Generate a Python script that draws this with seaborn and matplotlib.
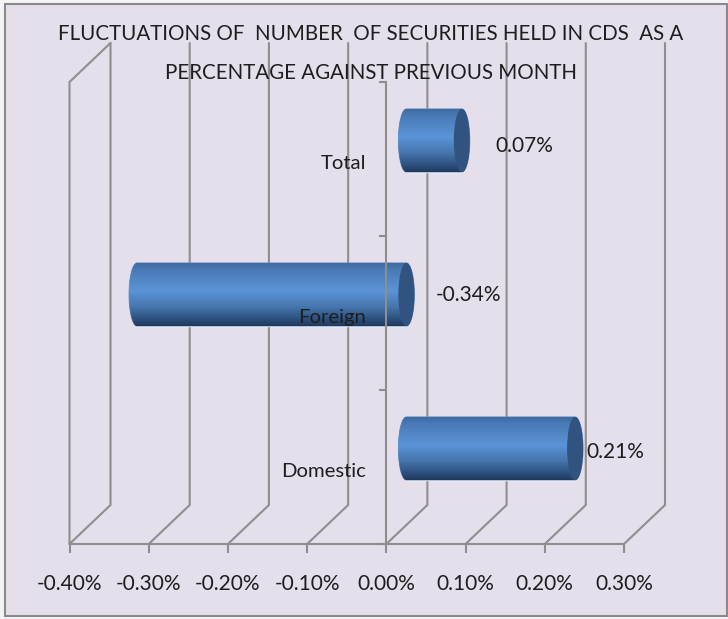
import numpy as np
import pandas as pd
import matplotlib
matplotlib.use("Agg")
import matplotlib.pyplot as plt
import seaborn as sns
from matplotlib.colors import LinearSegmentedColormap
from matplotlib.patches import Ellipse, Rectangle

# Datos del grafico
categorias = ["Total", "Foreign", "Domestic"]
valores = [0.07, -0.34, 0.213]
ticks_x = [-0.40, -0.30, -0.20, -0.10, 0.00, 0.10, 0.20, 0.30]
titulo = "FLUCTUATIONS OF  NUMBER  OF SECURITIES HELD IN CDS  AS A\nPERCENTAGE AGAINST PREVIOUS MONTH"

sns.set_theme(style="white")
plt.rcParams["font.family"] = ["Lato", "DejaVu Sans"]

FONDO = "#e4dfeb"
GRIS = "#8e8e8e"
TEXTO = "#1e1e1e"

fig = plt.figure(figsize=(7.28, 6.19), dpi=100, facecolor="#f4f3f5")
fig.patches.append(Rectangle((5 / 728, 1 - 616 / 619), 722 / 728, 612 / 619, transform=fig.transFigure,
                             facecolor=FONDO, edgecolor="#8a8a8a", linewidth=1.5, zorder=-1))
ax = fig.add_axes([69.5 / 728, 75 / 619, 554.5 / 728, 462 / 619])
ax.patch.set_visible(False)

df = pd.DataFrame({"categoria": categorias, "valor": valores})
sns.barplot(data=df, x="valor", y="categoria", orient="h", width=0.41, color="#4f81bd", ax=ax, zorder=3)

# Profundidad del efecto 3D, en unidades de los ejes
fondo_x = 41 / 792
fondo_y = 39 / 154
medio_x = 20 / 792
medio_y = 18.5 / 154
radio_x = 8 / 792

cmap = LinearSegmentedColormap.from_list("cilindro", [
    (0.0, "#3f6a9f"), (0.12, "#4a7ab6"), (0.45, "#5b94d8"), (0.7, "#4676ad"), (0.9, "#2c4e7c"), (1.0, "#203a5e")])
degradado = np.linspace(0, 1, 128).reshape(-1, 1)

for barra in list(ax.patches):
    barra.set_x(barra.get_x() + medio_x)
    barra.set_y(barra.get_y() - medio_y)
    extremos = [barra.get_x(), barra.get_x() + barra.get_width()]
    izq, der = min(extremos), max(extremos)
    arriba, abajo = barra.get_y(), barra.get_y() + barra.get_height()
    cy = (arriba + abajo) / 2
    ang = np.linspace(np.pi / 2, 3 * np.pi / 2, 40)
    xs = np.r_[izq + radio_x * np.cos(ang), der - radio_x * np.cos(ang)]
    ys = np.r_[cy - (abajo - cy) * np.sin(ang), cy + (abajo - cy) * np.sin(ang)]
    contorno = plt.Polygon(np.c_[xs, ys], closed=True, transform=ax.transData, facecolor="none",
                           edgecolor="#5a86b8", linewidth=0.6, zorder=4)
    ax.add_patch(contorno)
    im = ax.imshow(degradado, cmap=cmap, aspect="auto", origin="upper", zorder=4,
                   extent=(izq - radio_x, der + radio_x, abajo, arriba))
    im.set_clip_path(contorno)
    ax.add_patch(Ellipse((der, cy), 2 * radio_x, abajo - arriba, facecolor="#30537f", edgecolor="none", zorder=5))

ax.set_xlim(ticks_x[0], ticks_x[-1])
ax.set_ylim(2.5, -0.5)

# Paredes y piso del 3D
for t in ticks_x:
    ax.plot([t, t + fondo_x, t + fondo_x], [2.5, 2.5 - fondo_y, -0.5 - fondo_y], color=GRIS, lw=1.5,
            clip_on=False, zorder=1, solid_joinstyle="miter")
ax.plot([ticks_x[0], ticks_x[0], ticks_x[0] + fondo_x], [2.5, -0.5, -0.5 - fondo_y], color=GRIS, lw=1.5,
        clip_on=False, zorder=1)

sns.despine(ax=ax, top=True, right=True)
ax.spines["left"].set_position(("data", 0))
ax.spines["left"].set_color(GRIS)
ax.spines["left"].set_linewidth(1.5)
ax.spines["left"].set_zorder(6)
ax.spines["bottom"].set_color(GRIS)
ax.spines["bottom"].set_linewidth(1.5)

ax.set_xticks(ticks_x, [f"{t:.2f}%" for t in ticks_x])
ax.set_yticks([-0.5, 0.5, 1.5, 2.5], [])
ax.tick_params(axis="x", length=6.5, width=1.5, color=GRIS, labelsize=15, labelcolor=TEXTO, pad=15, bottom=True)
ax.tick_params(axis="y", length=5, width=1.5, color=GRIS, left=True)
ax.set_xlabel("")
ax.set_ylabel("")

# Etiquetas de categoria, encima de las barras
for i, cat in enumerate(categorias):
    ax.annotate(cat, (0, i), xytext=(-14.4, -3.4), textcoords="offset points", ha="right", va="center",
                fontsize=14.6, color=TEXTO, zorder=7)

# Etiquetas de valor
desplaza_x = [38.9, 35.5, 22.5]
desplaza_y = [9.6, 13.2, 10.8]
for i, v in enumerate(valores):
    ax.annotate(f"{v:.2f}%", (max(v, 0), i), xytext=(desplaza_x[i], desplaza_y[i]), textcoords="offset points",
                ha="left", va="center", fontsize=15, color=TEXTO, zorder=7)

fig.suptitle(titulo, x=371 / 728, y=1 - 53.5 / 619, va="center", ha="center", fontsize=14.8, color=TEXTO,
             linespacing=2.15)

fig.savefig("out.png", dpi=100, facecolor=fig.get_facecolor())
